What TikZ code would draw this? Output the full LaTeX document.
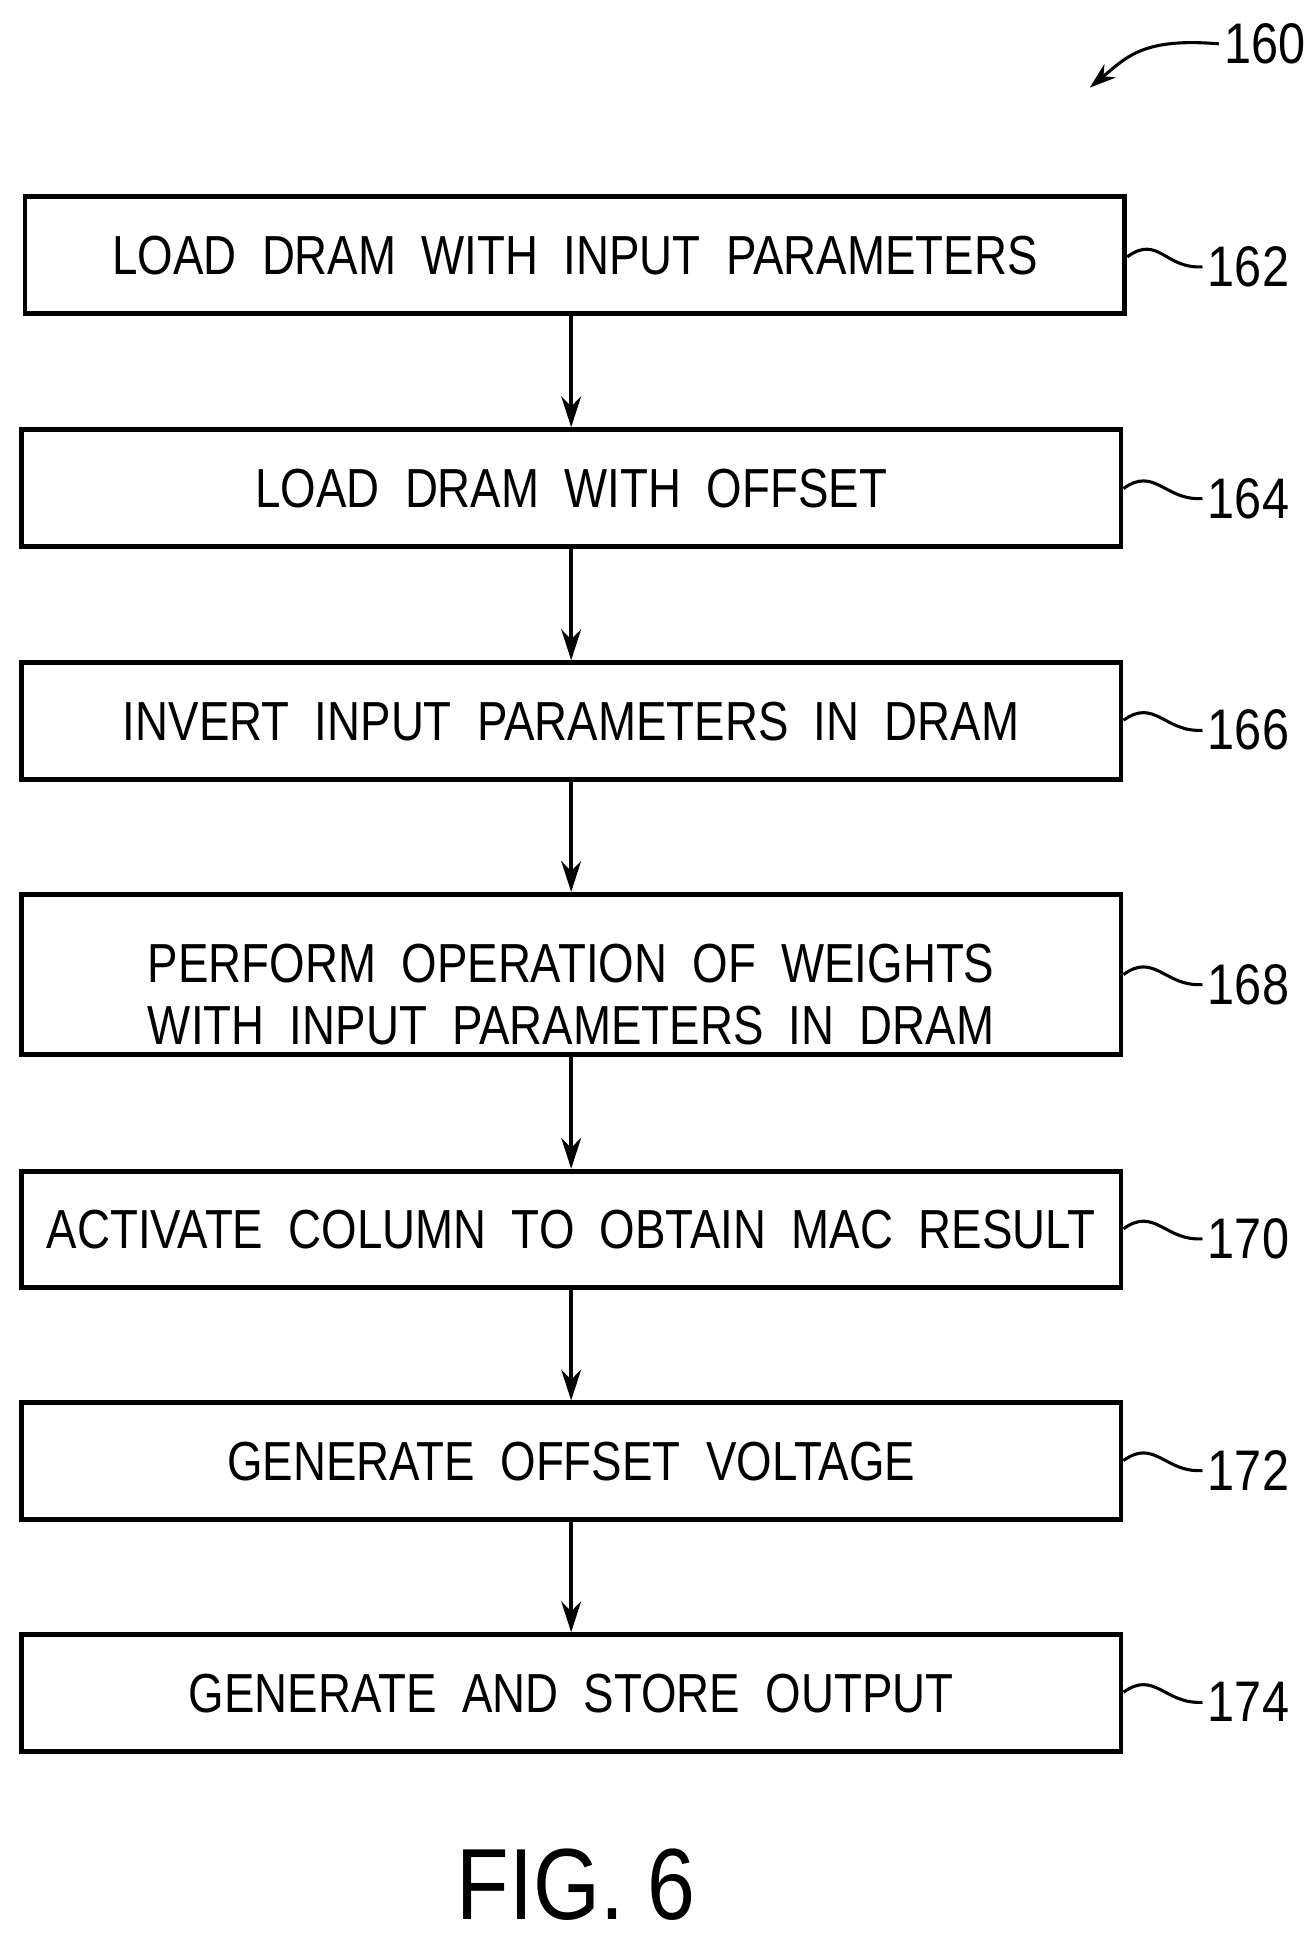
\documentclass[tikz,border=0pt]{standalone}
\usepackage{fontspec}
\setmainfont{Liberation Sans}
\usetikzlibrary{arrows.meta}
\begin{document}
\begin{tikzpicture}[x=0.02cm,y=-0.02cm,
 box/.style={draw,line width=2.2pt,inner sep=0,align=center,font=\fontsize{25}{31}\selectfont,text depth=0pt},
 arr/.style={line width=1.8pt,-{Stealth[length=14pt,width=9pt]}},
 lead/.style={line width=1.4pt},
 num/.style={font=\fontsize{26}{30}\selectfont,anchor=west,inner sep=0}]
\useasboundingbox (0,0) rectangle (1050,1556);
\newcommand\bx[6]{\node[box,minimum width={(#3-#2)*0.02cm},minimum height={(#5-#4)*0.02cm}] (#1) at ({(#2+#3)/2},{(#4+#5)/2}) {\scalebox{0.83}[1]{#6}};}
\def\s{\ \ }
\bx{b1}{20}{898}{157}{250}{LOAD\s DRAM\s WITH\s INPUT\s PARAMETERS}
\bx{b2}{17}{895}{343}{436}{LOAD\s DRAM\s WITH\s OFFSET}
\bx{b3}{17}{895}{529}{622}{INVERT\s INPUT\s PARAMETERS\s IN\s DRAM}
\bx{b4}{17}{895}{714}{842}{\begin{tabular}{c}PERFORM\s OPERATION\s OF\s WEIGHTS\\[-3pt]WITH\s INPUT\s PARAMETERS\s IN\s DRAM\end{tabular}}
\bx{b5}{17}{895}{935}{1028}{ACTIVATE\ \ COLUMN\ \ TO\ \ OBTAIN\ \ MAC\ \ RESULT}
\bx{b6}{17}{895}{1120}{1213}{GENERATE\s OFFSET\s VOLTAGE}
\bx{b7}{17}{895}{1305}{1398}{GENERATE\s AND\s STORE\s OUTPUT}
\foreach \a/\b in {b1/b2,b2/b3,b3/b4,b4/b5,b5/b6,b6/b7}
  \draw[arr] (\a.south -| \b.north) -- (\b.north);
\foreach \n/\y/\t in {b1/205/162,b2/390/164,b3/575/166,b4/778/168,b5/981/170,b6/1166/172,b7/1351/174}{
  \coordinate (s\n) at (\n.east |- 0,\y);
  \node[num] (l\n) at (964,\y+8) {\scalebox{0.85}[1]{\t}};
  \draw[lead] (s\n) .. controls +(25,-18) and +(-30,2) .. ([xshift=-0.08cm]l\n.west);
}
\node[num] (l160) at (977,35) {\scalebox{0.85}[1]{160}};
\coordinate (t160) at (870,70);
\draw[lead,-{Stealth[length=12pt,width=8pt]}] ([xshift=-0.08cm]l160.west) .. controls +(-60,-5) and +(30,-25) .. (t160);
\node[font=\fontsize{46}{54}\selectfont] (fig) at (460,1505) {\scalebox{0.85}[1]{FIG. 6}};
\end{tikzpicture}
\end{document}
